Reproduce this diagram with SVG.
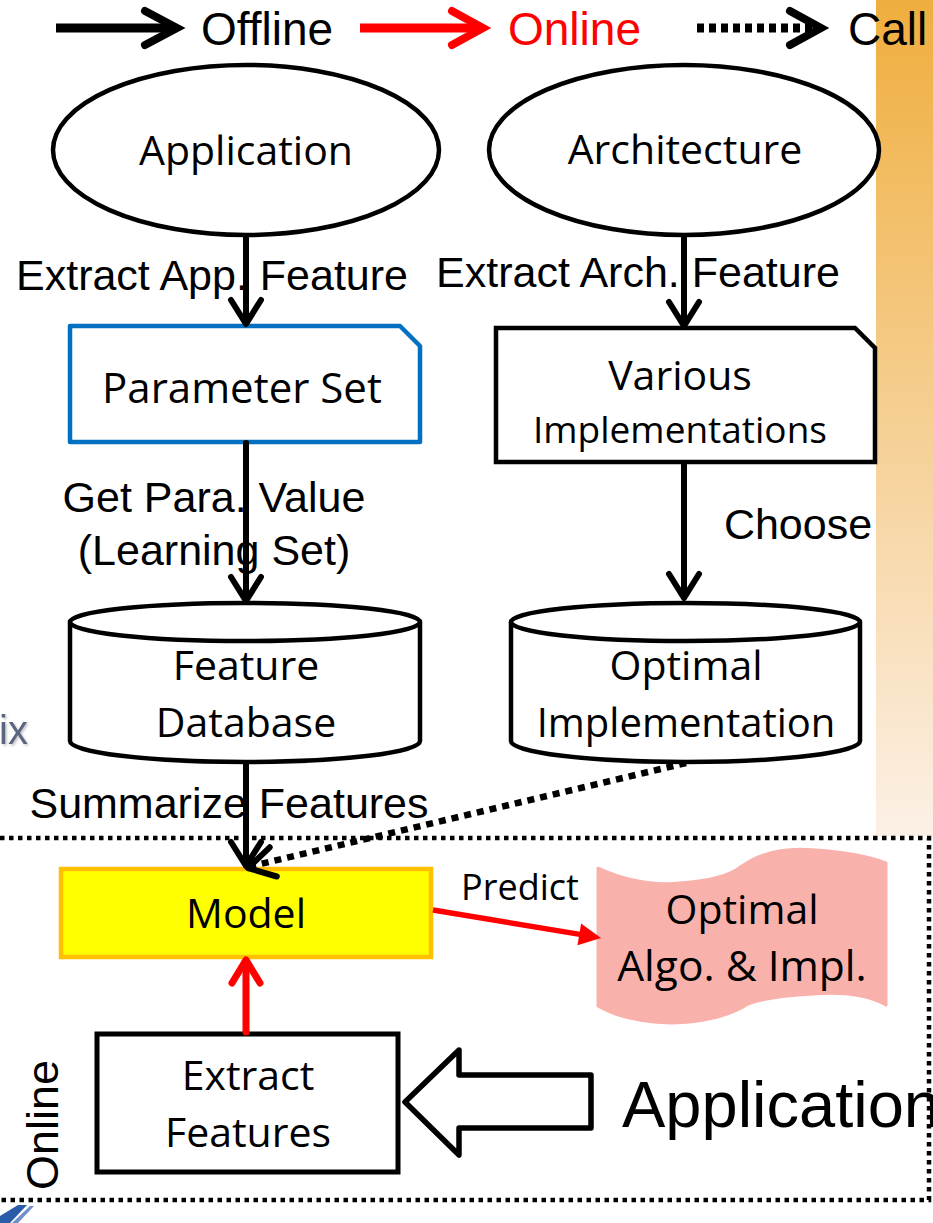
<svg xmlns="http://www.w3.org/2000/svg" width="933" height="1223" viewBox="0 0 933 1223">
<defs>
<linearGradient id="bar" x1="0" y1="0" x2="0" y2="1">
<stop offset="0" stop-color="#EFAE3E"/>
<stop offset="1" stop-color="#FCF0E6"/>
</linearGradient>
<filter id="sh" x="-20%" y="-20%" width="140%" height="140%">
<feDropShadow dx="1.5" dy="1.5" stdDeviation="1" flood-color="#999" flood-opacity="0.6"/>
</filter>
</defs>
<style>
.node{font-family:"Open Sans","Noto Sans",sans-serif;font-size:41px;fill:#000;text-anchor:middle}
.lbl{font-family:"Liberation Sans",Arial,sans-serif;font-size:43px;fill:#000;text-anchor:middle}
.leg{font-family:"Liberation Sans",Arial,sans-serif;font-size:46px}
.bk{fill:none;stroke:#000;stroke-width:6;stroke-linecap:round;stroke-linejoin:round}
.rd{fill:none;stroke:#FF0000;stroke-width:7;stroke-linecap:round;stroke-linejoin:round}
.outline{fill:#fff;stroke:#000;stroke-width:4.5}
</style>
<rect x="876" y="0" width="57" height="836" fill="url(#bar)"/>
<text x="-1" y="744" font-family="Liberation Sans,Arial,sans-serif" font-size="40" fill="#5B6580" filter="url(#sh)">ix</text>
<path d="M0,1216 L18,1205 L27,1205 L10,1223 L0,1223 Z" fill="#2A5CA8"/>
<path d="M12,1223 L30,1206 L34,1206 L18,1223 Z" fill="#6F8FC8"/>

<g id="legend">
<line x1="56" y1="28" x2="176" y2="28" stroke="#000" stroke-width="9"/>
<polyline points="145,11 177,28 145,45" fill="none" stroke="#000" stroke-width="8" stroke-linecap="round" stroke-linejoin="miter"/>
<text class="leg" x="201" y="45" fill="#000">Offline</text>
<line x1="360" y1="28" x2="480" y2="28" stroke="#FF0000" stroke-width="9"/>
<polyline points="452,11 483,28 452,45" fill="none" stroke="#FF0000" stroke-width="8" stroke-linecap="round" stroke-linejoin="miter"/>
<text class="leg" x="508" y="45" fill="#FF0000">Online</text>
<line x1="697" y1="28" x2="816" y2="28" stroke="#000" stroke-width="9" stroke-dasharray="7,5"/>
<polyline points="790,11 821,28 790,45" fill="none" stroke="#000" stroke-width="8" stroke-linecap="round" stroke-linejoin="miter"/>
<text class="leg" x="848" y="45" fill="#000">Call</text>
</g>

<g id="online-region">
<path d="M0,838 L929,838 L929,1200 L0,1200" fill="none" stroke="#000" stroke-width="4.5" stroke-dasharray="4.5,4.5"/>
<text x="58" y="1125" transform="rotate(-90 58 1125)" font-family="Liberation Sans,Arial,sans-serif" font-size="45" text-anchor="middle">Online</text>
</g>

<g id="application-ellipse">
<ellipse cx="246" cy="150" rx="193" ry="85" class="outline"/>
<text class="node" x="246" y="165">Application</text>
</g>

<g id="architecture-ellipse">
<ellipse cx="684" cy="150" rx="195" ry="85" class="outline"/>
<text class="node" x="685" y="164">Architecture</text>
</g>

<g id="parameter-set">
<path d="M70,326 L400,326 L420,346 L420,442 L70,442 Z" fill="#fff" stroke="#0070C0" stroke-width="4.5" stroke-linejoin="round"/>
<text class="node" x="242" y="403" style="font-size:42px">Parameter Set</text>
</g>

<g id="various-implementations">
<path d="M496,328 L855,328 L875,348 L875,462 L496,462 Z" fill="#fff" stroke="#000" stroke-width="4.5"/>
<text class="node" x="680" y="390">Various</text>
<text class="node" x="680" y="443" style="font-size:37px">Implementations</text>
</g>

<g id="feature-database">
<path d="M70,622 L70,741 A175,21 0 0 0 420,741 L420,622" fill="#fff" stroke="#000" stroke-width="4.5"/>
<ellipse cx="245" cy="622" rx="175" ry="19" fill="#fff" stroke="#000" stroke-width="4.5"/>
<text class="node" x="246" y="680">Feature</text>
<text class="node" x="246" y="737">Database</text>
</g>

<g id="optimal-implementation">
<path d="M511,622 L511,741 A174.5,21 0 0 0 860,741 L860,622" fill="#fff" stroke="#000" stroke-width="4.5"/>
<ellipse cx="685.5" cy="622" rx="174.5" ry="19" fill="#fff" stroke="#000" stroke-width="4.5"/>
<text class="node" x="686" y="680">Optimal</text>
<text class="node" x="686" y="737" style="font-size:40px">Implementation</text>
</g>

<g id="model">
<rect x="61" y="869" width="370" height="88" fill="#FFFF00" stroke="#FFC000" stroke-width="4.5"/>
<text class="node" x="246" y="928">Model</text>
</g>

<g id="optimal-algo-impl">
<path d="M598,868 Q640,887 680,883 Q725,880 742,866 Q770,846 815,850 Q860,853 886,863 L886,1005 Q860,990 813,994 Q770,996 748,1004 Q720,1022 672,1023 Q625,1022 598,1006 Z" fill="#F9B1AC" stroke="#F9B1AC" stroke-width="3" stroke-linejoin="round"/>
<text class="node" x="742" y="924">Optimal</text>
<text class="node" x="742" y="981" style="font-size:42.5px">Algo. &amp; Impl.</text>
</g>

<g id="extract-features">
<rect x="97" y="1034" width="301" height="138" fill="#fff" stroke="#000" stroke-width="5"/>
<text class="node" x="248" y="1090">Extract</text>
<text class="node" x="248" y="1147">Features</text>
</g>

<g id="application-input">
<path d="M591,1075 L459,1075 L459,1050 L405,1102 L459,1155 L459,1128 L591,1128 Z" fill="#fff" stroke="#000" stroke-width="5.5" stroke-linejoin="round"/>
<text x="622" y="1127" font-family="Liberation Sans,Arial,sans-serif" font-size="65">Application</text>
</g>

<g id="connectors">
<line x1="246" y1="236" x2="246" y2="323" class="bk"/>
<polyline points="231,300 246,324 261,300" class="bk"/>
<line x1="684" y1="236" x2="684" y2="325" class="bk"/>
<polyline points="669,302 684,326 699,302" class="bk"/>
<line x1="246" y1="443" x2="246" y2="600" class="bk"/>
<polyline points="231,577 246,601 261,577" class="bk"/>
<line x1="684" y1="463" x2="684" y2="597" class="bk"/>
<polyline points="669,574 684,598 699,574" class="bk"/>
<line x1="246" y1="763" x2="246" y2="865" class="bk"/>
<polyline points="231,842 246,866 261,842" class="bk"/>
<line x1="686" y1="763" x2="252" y2="866" fill="none" stroke="#000" stroke-width="6.5" stroke-dasharray="7,6"/>
<polyline points="276.8,876.5 248,868 269.7,847.3" class="bk"/>
<line x1="246" y1="1032" x2="246" y2="962" class="rd"/>
<polyline points="232,983 246,960 260,983" class="rd"/>
<line x1="433" y1="910" x2="580" y2="934.4" stroke="#FF0000" stroke-width="5.5"/>
<polygon points="601,938 577.5,945.2 581.1,923.6" fill="#FF0000"/>
</g>

<g id="labels">
<text class="lbl" x="212" y="290">Extract App. Feature</text>
<text class="lbl" x="638" y="287">Extract Arch. Feature</text>
<text class="lbl" x="214" y="512">Get Para. Value</text>
<text class="lbl" x="214" y="565">(Learning Set)</text>
<text class="lbl" x="798" y="539">Choose</text>
<text class="lbl" x="229" y="818">Summarize Features</text>
<text x="520" y="900" font-family="Open Sans,Noto Sans,sans-serif" font-size="36" text-anchor="middle">Predict</text>
</g>
</svg>
